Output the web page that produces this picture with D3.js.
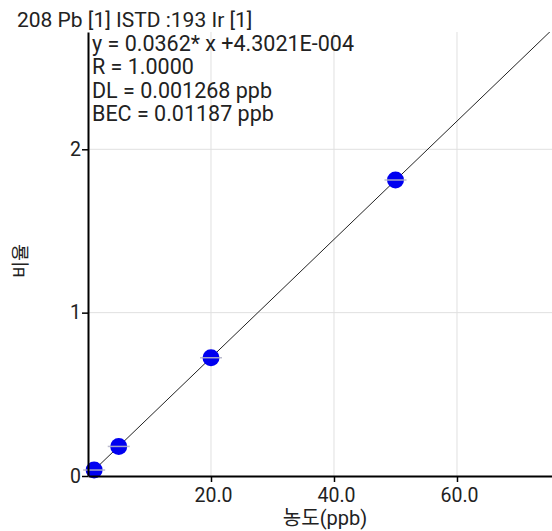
<!DOCTYPE html>
<html>
<head>
<meta charset="utf-8">
<script src="https://cdn.jsdelivr.net/npm/d3@7"></script>
<style>
  body { margin: 0; background: #fff; }
  svg { display: block; font-family: Roboto, "Noto Sans CJK KR", sans-serif; }
</style>
</head>
<body>
<svg id="chart" width="552" height="531"></svg>
<script>
// 검량선 데이터
const conc = [1, 5, 20, 50];
const ratio = [0.0366, 0.181, 0.724, 1.812];
const slope = 0.0362, intercept = 4.3021e-4;
const xTicks = [20, 40, 60];
const yTicks = [0, 1, 2];
const title = '208 Pb [1] ISTD :193 Ir [1]';
const info = [
  'y = 0.0362* x +4.3021E-004',
  'R = 1.0000',
  'DL = 0.001268 ppb',
  'BEC = 0.01187 ppb'
];

const width = 552, height = 531;
const margin = { top: 32, right: 0, bottom: 55, left: 88 };
const svg = d3.select('#chart');

const x = d3.scaleLinear([0, 75.45], [margin.left, width - margin.right]);
const y = d3.scaleLinear([0, 2.718], [height - margin.bottom, margin.top]);

// 격자
const grid = svg.append('g').attr('stroke', '#e0e0e0').attr('stroke-width', 1);
grid.selectAll('.vx').data(xTicks).join('line')
  .attr('x1', d => x(d)).attr('x2', d => x(d))
  .attr('y1', y.range()[1]).attr('y2', y.range()[0]);
grid.selectAll('.hy').data(yTicks.filter(d => d > 0)).join('line')
  .attr('x1', x.range()[0]).attr('x2', x.range()[1])
  .attr('y1', d => y(d)).attr('y2', d => y(d));

// 회귀선
svg.append('clipPath').attr('id', 'clip')
  .append('rect')
  .attr('x', margin.left).attr('y', margin.top)
  .attr('width', width - margin.left - margin.right)
  .attr('height', height - margin.top - margin.bottom);
const fitX = x.domain();
svg.append('line')
  .attr('clip-path', 'url(#clip)')
  .attr('x1', x(fitX[0])).attr('y1', y(slope * fitX[0] + intercept))
  .attr('x2', x(fitX[1])).attr('y2', y(slope * fitX[1] + intercept))
  .attr('stroke', '#222').attr('stroke-width', 1);

// 측정점
const pts = svg.append('g').selectAll('g').data(conc).join('g')
  .attr('transform', (d, i) => `translate(${x(d)},${y(ratio[i])})`);
pts.append('circle').attr('r', 8.5).attr('fill', '#0000f0');
pts.append('line')
  .attr('x1', -11).attr('x2', 11)
  .attr('stroke', '#b4b4c8').attr('stroke-width', 1.5).attr('opacity', 0.9);

// 축
const xAxis = d3.axisBottom(x).tickValues(xTicks).tickFormat(d3.format('.1f'))
  .tickSize(6).tickSizeOuter(0);
const yAxis = d3.axisLeft(y).tickValues(yTicks).tickFormat(d3.format('d'))
  .tickSize(6).tickSizeOuter(0);

svg.append('g')
  .attr('transform', `translate(0,${y(0)})`)
  .call(xAxis)
  .call(g => g.select('.domain').attr('stroke', '#000').attr('stroke-width', 2))
  .call(g => g.selectAll('.tick line').attr('stroke', '#000').attr('stroke-width', 1.5))
  .call(g => g.selectAll('.tick text').attr('font-size', 19.5).attr('fill', '#222')
    .attr('font-family', 'Roboto').attr('dy', '0.85em').attr('dx', 2));

svg.append('g')
  .attr('transform', `translate(${x(0)},0)`)
  .call(yAxis)
  .call(g => g.select('.domain').attr('stroke', '#000').attr('stroke-width', 2))
  .call(g => g.selectAll('.tick line').attr('stroke', '#000').attr('stroke-width', 1.5))
  .call(g => g.selectAll('.tick text').attr('font-size', 19.5).attr('fill', '#222')
    .attr('font-family', 'Roboto').attr('x', -7));

// 제목, 수식
svg.append('text')
  .attr('x', 17).attr('y', 26.5)
  .attr('font-size', 21).attr('fill', '#222')
  .text(title);

svg.append('g').selectAll('text').data(info).join('text')
  .attr('x', 92).attr('y', (d, i) => 50.5 + i * 23.6)
  .attr('font-size', 21.5).attr('fill', '#222')
  .text(d => d);

// 축 이름
svg.append('text')
  .attr('x', 325).attr('y', 525)
  .attr('text-anchor', 'middle')
  .attr('font-size', 20).attr('fill', '#222')
  .text('농도(ppb)');

svg.append('g')
  .attr('transform', `translate(27,261)`)
  .append('text')
  .attr('transform', 'rotate(-90)')
  .attr('text-anchor', 'middle')
  .attr('font-size', 18.5).attr('fill', '#222')
  .text('비율');
</script>
</body>
</html>
